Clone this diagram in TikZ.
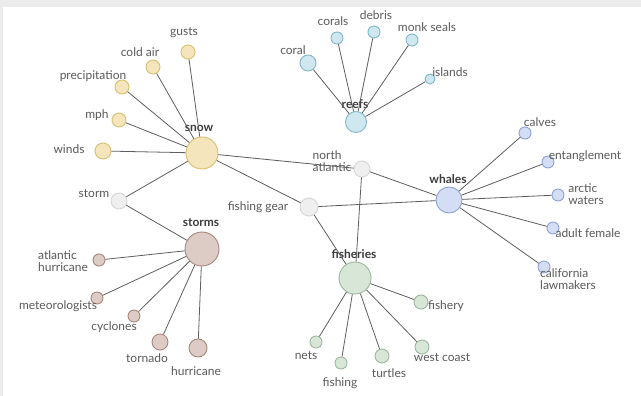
\documentclass[tikz,border=0pt]{standalone}
\usepackage{fontspec}
\setmainfont{Lato}
\definecolor{framegray}{HTML}{ECECEC}
\definecolor{textgray}{HTML}{5A5A5A}
\definecolor{hubgray}{HTML}{3C3C3C}
\definecolor{linkgray}{HTML}{5E5E5E}
\definecolor{snowfill}{HTML}{F4E5BC}
\definecolor{snowline}{HTML}{D8BF72}
\definecolor{stormfill}{HTML}{DCCCC5}
\definecolor{stormline}{HTML}{A8877D}
\definecolor{whalefill}{HTML}{D3DDF3}
\definecolor{whaleline}{HTML}{8EA2D8}
\definecolor{fishfill}{HTML}{D8E6D8}
\definecolor{fishline}{HTML}{9DB89F}
\definecolor{reeffill}{HTML}{CFE7EF}
\definecolor{reefline}{HTML}{80B8CB}
\definecolor{grayfill}{HTML}{EFEFEF}
\definecolor{grayline}{HTML}{D6D6D6}
\tikzset{
  dot/.style={circle, line width=0.9pt, inner sep=0pt},
  snowc/.style={dot, fill=snowfill, draw=snowline},
  stormc/.style={dot, fill=stormfill, draw=stormline},
  whalec/.style={dot, fill=whalefill, draw=whaleline},
  fishc/.style={dot, fill=fishfill, draw=fishline},
  reefc/.style={dot, fill=reeffill, draw=reefline},
  grayc/.style={dot, fill=grayfill, draw=grayline},
  word/.style={text=textgray, font=\fontsize{12}{11.5}\selectfont, inner sep=0pt, align=left},
  hubword/.style={word, text=hubgray, font=\bfseries\fontsize{12}{12}\selectfont},
  link/.style={draw=linkgray, line width=0.8pt}
}
\begin{document}
\begin{tikzpicture}[x=1pt, y=-1pt]
  % frame
  \fill[framegray] (0,0) rectangle (641,396);
  \fill[white] (3,7) rectangle (641,396);
  \useasboundingbox (0,0) rectangle (641,396);

  % hubs
  \node[snowc, minimum size=32pt] (snow) at (202,153) {};
  \node[hubword] (snow-l) at (199,128) {snow};
  \node[stormc, minimum size=34pt] (storms) at (202,249) {};
  \node[hubword] (storms-l) at (201,223) {storms};
  \node[whalec, minimum size=26pt] (whales) at (449,200) {};
  \node[hubword] (whales-l) at (448,179) {whales};
  \node[fishc, minimum size=32pt] (fisheries) at (355,278) {};
  \node[hubword] (fisheries-l) at (354,254) {fisheries};
  \node[reefc, minimum size=21pt] (reefs) at (356,122) {};
  \node[hubword] (reefs-l) at (355,104) {reefs};

  % leaves: name/x/y/radius/label x/label y/text
  \foreach \n/\x/\y/\r/\lx/\ly/\t in {gusts/188/52/7/184/33/gusts,
      coldair/153/67/7/140/52/cold air, precip/122/87/7/93/76/precipitation,
      mph/119/120/7/97/115/mph, winds/103/151/8/69/149/winds}
  {
    \node[snowc, minimum size=\r*2pt] (\n) at (\x,\y) {};
    \node[word] (\n-l) at (\lx,\ly) {\t};
  }
  \foreach \n/\x/\y/\r/\lx/\ly/\t in {storm/119/201/8/94/194/storm,
      northatl/362/169/8/332/161/{north\\atlantic},
      fishgear/309/207/9/258/207/fishing gear}
  {
    \node[grayc, minimum size=\r*2pt] (\n) at (\x,\y) {};
    \node[word] (\n-l) at (\lx,\ly) {\t};
  }
  \foreach \n/\x/\y/\r/\lx/\ly/\t in {athurr/99/260/6/63/261/{atlantic\\hurricane},
      meteo/97/298/6/58/306/meteorologists, cyclones/134/316/6/114/327/cyclones,
      tornado/160/342/8/147/358/tornado, hurricane/198/348/9/196/371/hurricane}
  {
    \node[stormc, minimum size=\r*2pt] (\n) at (\x,\y) {};
    \node[word] (\n-l) at (\lx,\ly) {\t};
  }
  \foreach \n/\x/\y/\r/\lx/\ly/\t in {calves/525/133/6/540/122/calves,
      entangle/548/162/6/585/156/entanglement, arctic/558/195/6/586/194/{arctic\\waters},
      adultfem/553/228/6/588/233/adult female,
      calif/544/267/6/568/279/{california\\lawmakers}}
  {
    \node[whalec, minimum size=\r*2pt] (\n) at (\x,\y) {};
    \node[word] (\n-l) at (\lx,\ly) {\t};
  }
  \foreach \n/\x/\y/\r/\lx/\ly/\t in {fishery/421/302/7/446/306/fishery,
      nets/316/342/6/306/356/nets, fishing/341/363/6/340/383/fishing,
      turtles/382/356/7/389/373/turtles, westcoast/422/347/7/442/358/west coast}
  {
    \node[fishc, minimum size=\r*2pt] (\n) at (\x,\y) {};
    \node[word] (\n-l) at (\lx,\ly) {\t};
  }
  \foreach \n/\x/\y/\r/\lx/\ly/\t in {coral/308/63/8/293/50/coral,
      corals/337/38/6/333/21/corals, debris/374/32/6/376/15/debris,
      monkseals/412/40/6/427/27/monk seals, islands/430/79/5/450/72/islands}
  {
    \node[reefc, minimum size=\r*2pt] (\n) at (\x,\y) {};
    \node[word] (\n-l) at (\lx,\ly) {\t};
  }

  % links
  \foreach \n in {gusts,coldair,precip,mph,winds,storm,northatl,fishgear}
    \draw[link] (snow) -- (\n);
  \draw[link] (storm) -- (storms);
  \foreach \n in {athurr,meteo,cyclones,tornado,hurricane}
    \draw[link] (storms) -- (\n);
  \foreach \n in {northatl,fishgear,calves,entangle,arctic,adultfem,calif}
    \draw[link] (whales) -- (\n);
  \foreach \n in {northatl,fishgear,fishery,nets,fishing,turtles,westcoast}
    \draw[link] (fisheries) -- (\n);
  \foreach \n in {coral,corals,debris,monkseals,islands}
    \draw[link] (reefs) -- (\n);
\end{tikzpicture}
\end{document}
